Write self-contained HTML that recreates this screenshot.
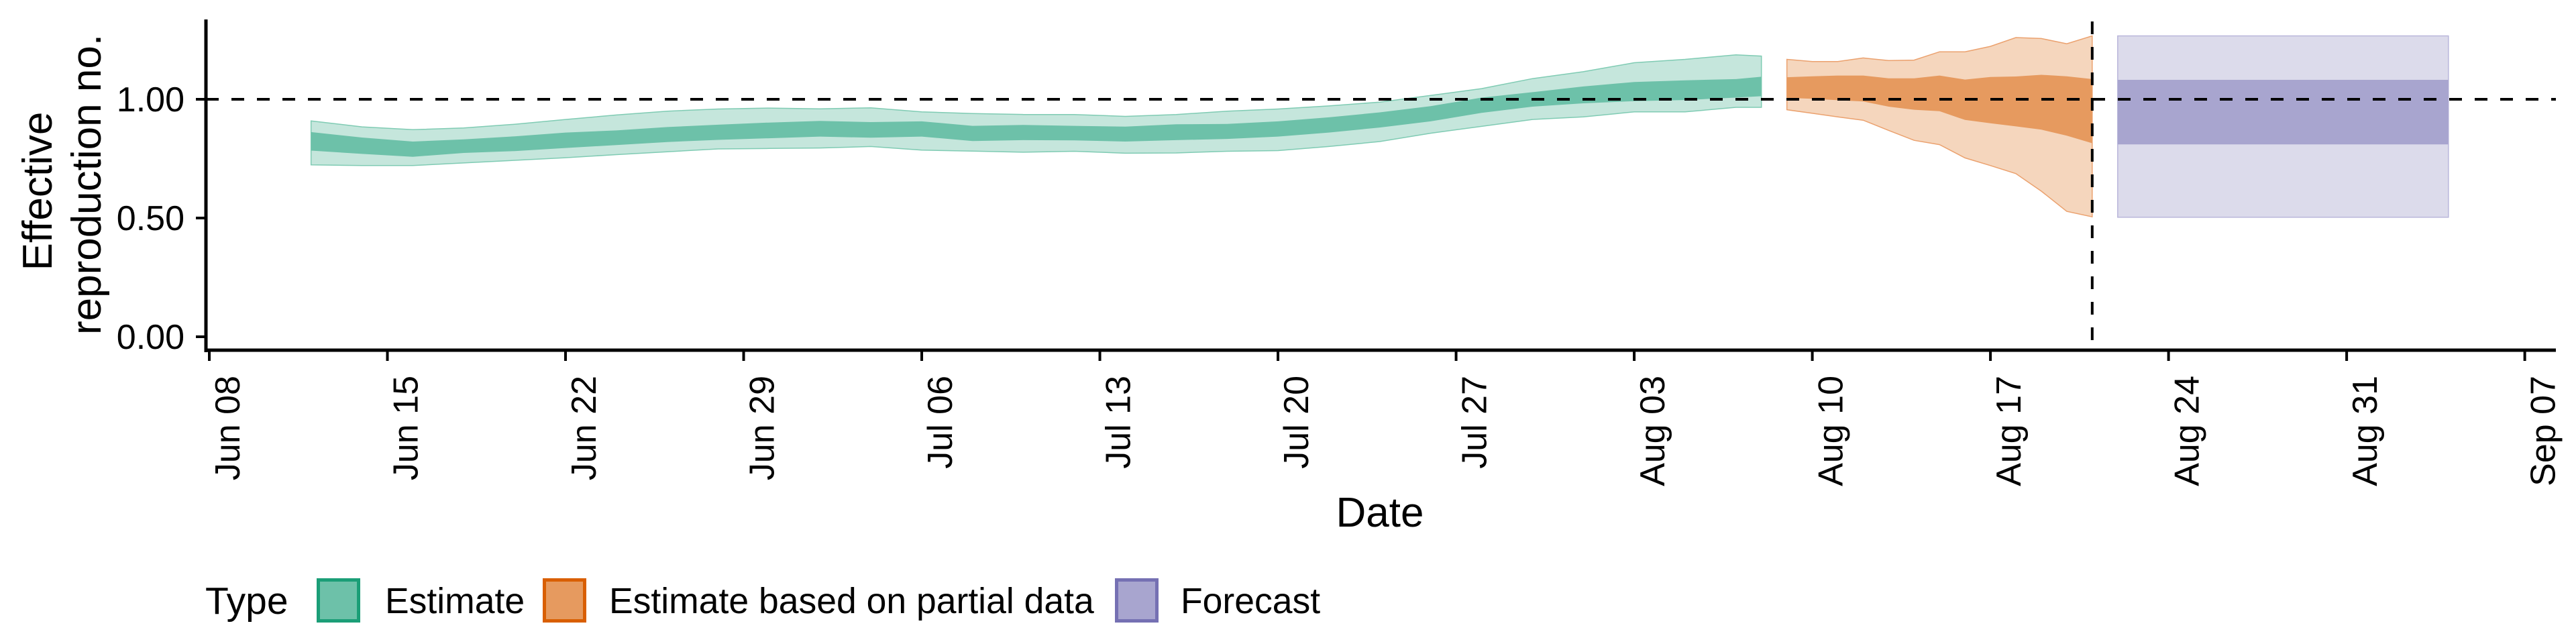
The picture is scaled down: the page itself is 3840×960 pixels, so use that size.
<!DOCTYPE html>
<html><head><meta charset="utf-8"><style>
html,body{margin:0;padding:0;background:#fff;}
svg{display:block;font-family:"Liberation Sans",Arial,sans-serif;}
</style></head><body>
<svg id="chart" width="3840" height="960" viewBox="0 0 3840 960" xmlns="http://www.w3.org/2000/svg">
<g id="bands"></g>
<g id="axes"></g>
<g id="legend"></g>
</svg>
<script>
const estDates = ["06-12","06-14","06-16","06-18","06-20","06-22","06-24","06-26","06-28","06-30","07-02","07-04","07-06","07-08","07-10","07-12","07-14","07-16","07-18","07-20","07-22","07-24","07-26","07-28","07-30","08-01","08-03","08-05","08-07","08-08"];
const estUpper90 = [0.909,0.884,0.872,0.879,0.895,0.915,0.934,0.950,0.959,0.963,0.960,0.964,0.947,0.940,0.936,0.936,0.928,0.936,0.950,0.959,0.972,0.988,1.016,1.045,1.087,1.116,1.154,1.168,1.187,1.182];
const estUpper50 = [0.862,0.839,0.822,0.831,0.844,0.860,0.869,0.883,0.893,0.902,0.909,0.904,0.907,0.888,0.892,0.888,0.885,0.895,0.896,0.907,0.924,0.945,0.971,1.007,1.030,1.054,1.073,1.080,1.085,1.095];
const estLower50 = [0.784,0.770,0.758,0.774,0.782,0.795,0.807,0.820,0.829,0.836,0.843,0.838,0.843,0.824,0.828,0.827,0.822,0.828,0.833,0.843,0.860,0.881,0.907,0.943,0.969,0.983,0.992,0.997,1.007,1.013];
const estLower90 = [0.724,0.721,0.721,0.732,0.743,0.754,0.767,0.779,0.791,0.793,0.795,0.801,0.786,0.782,0.777,0.781,0.773,0.774,0.781,0.784,0.801,0.822,0.857,0.886,0.915,0.926,0.947,0.947,0.966,0.966];

const partDates = ["08-09","08-10","08-11","08-12","08-13","08-14","08-15","08-16","08-17","08-18","08-19","08-20","08-21"];
const partUpper90 = [1.168,1.159,1.159,1.174,1.163,1.165,1.200,1.200,1.223,1.260,1.256,1.234,1.267];
const partUpper50 = [1.093,1.097,1.100,1.100,1.088,1.088,1.100,1.083,1.094,1.096,1.103,1.097,1.085];
const partLower50 = [1.006,1.002,0.996,0.991,0.969,0.956,0.950,0.913,0.899,0.886,0.872,0.847,0.815];
const partLower90 = [0.956,0.941,0.926,0.912,0.869,0.827,0.809,0.753,0.721,0.687,0.613,0.528,0.505];

const fcDates = ["08-22","09-04"];
const fcUpper90 = [1.267,1.267];
const fcUpper50 = [1.082,1.082];
const fcLower50 = [0.81,0.81];
const fcLower90 = [0.503,0.503];

const xTickLabels = ["Jun 08","Jun 15","Jun 22","Jun 29","Jul 06","Jul 13","Jul 20","Jul 27","Aug 03","Aug 10","Aug 17","Aug 24","Aug 31","Sep 07"];
const yTicks = [0, 0.5, 1.0];
const yTickLabels = ["0.00","0.50","1.00"];
const refR = 1.0;
const cutoffDate = "08-21";

const NS = "http://www.w3.org/2000/svg";
function dayIndex(md){const [m,d]=md.split("-").map(Number);return Math.round((Date.UTC(2020,m-1,d)-Date.UTC(2020,5,8))/86400000);}
function xs(md){return 312 + dayIndex(md)*37.93;}
function xd(i){return 312 + i*37.93;}
function ys(r){return 148 + (1-r)*354;}
function mk(tag, attrs, parent){const e=document.createElementNS(NS,tag);for(const k in attrs)e.setAttribute(k,attrs[k]);parent.appendChild(e);return e;}

const bands=document.getElementById("bands");
function band(dates, up, lo, fill, stroke, name){
  let d="M"+dates.map((t,i)=>xs(t).toFixed(1)+","+ys(up[i]).toFixed(1)).join("L");
  for(let i=dates.length-1;i>=0;i--) d+="L"+xs(dates[i]).toFixed(1)+","+ys(lo[i]).toFixed(1);
  d+="Z";
  const p=mk("path",{d:d,fill:fill,stroke:stroke||"none","stroke-width":stroke?1.5:0},bands);
  
  
}
band(estDates, estUpper90, estLower90, "#c5e6dc", "#7fcbb3", "estimate-90-band");
band(estDates, estUpper50, estLower50, "#6dc1a9", null, "estimate-50-band");
band(partDates, partUpper90, partLower90, "#f5d6bd", "#eba16e", "partial-90-band");
band(partDates, partUpper50, partLower50, "#e69a5f", null, "partial-50-band");
band(fcDates, fcUpper90, fcLower90, "#dcdbeb", "#b9b6db", "forecast-90-band");
band(fcDates, fcUpper50, fcLower50, "#a8a5cf", null, "forecast-50-band");

const axes=document.getElementById("axes");
let el;
el=mk("line",{x1:307,x2:3810,y1:ys(refR),y2:ys(refR),stroke:"#000","stroke-width":4,"stroke-dasharray":"19 19"},axes);


el=mk("line",{x1:xs(cutoffDate),x2:xs(cutoffDate),y1:32,y2:522,stroke:"#000","stroke-width":4,"stroke-dasharray":"19 19"},axes);


el=mk("line",{x1:307,x2:307,y1:29,y2:525,stroke:"#000","stroke-width":5},axes);


el=mk("line",{x1:305,x2:3810,y1:522,y2:522,stroke:"#000","stroke-width":5},axes);


yTicks.forEach((v,i)=>{
  const t=mk("line",{x1:292,x2:307,y1:ys(v),y2:ys(v),stroke:"#000","stroke-width":4},axes);
  
  
  const l=mk("text",{x:275,y:ys(v)+18,"text-anchor":"end","font-size":52,fill:"#000"},axes);
  l.textContent=yTickLabels[i];
  
  
});
xTickLabels.forEach((lab,i)=>{
  const x=xd(i*7);
  const t=mk("line",{x1:x,x2:x,y1:522,y2:538,stroke:"#000","stroke-width":4},axes);
  
  
  const l=mk("text",{transform:"translate("+(x+45)+",560) rotate(-90)","text-anchor":"end","font-size":52,fill:"#000"},axes);
  l.textContent=lab;
  
  
});
el=mk("text",{x:2057,y:785,"text-anchor":"middle","font-size":62,fill:"#000"},axes);
el.textContent="Date";


el=mk("text",{transform:"translate(77,285) rotate(-90)","text-anchor":"middle","font-size":62,fill:"#000"},axes);
el.textContent="Effective";


el=mk("text",{transform:"translate(150,275) rotate(-90)","text-anchor":"middle","font-size":62,fill:"#000"},axes);
el.textContent="reproduction no.";



const legend=document.getElementById("legend");
el=mk("text",{x:306,y:915,"font-size":57,fill:"#000"},legend);
el.textContent="Type";


const legItems=[["Estimate",472,"#6dc1a9","#1b9e77",574,"legend-entry-estimate"],["Estimate based on partial data",809,"#e69a5f","#d95f02",908,"legend-entry-partial"],["Forecast",1662,"#a8a5cf","#7570b3",1760,"legend-entry-forecast"]];
legItems.forEach(it=>{
  const g=mk("g",{},legend);
  
  
  const r=mk("rect",{x:it[1]+2.5,y:864.5,width:60,height:61,fill:it[2],stroke:it[3],"stroke-width":5},g);
  
  
  const t=mk("text",{x:it[4],y:914,"font-size":53.5,fill:"#000"},g);
  t.textContent=it[0];
  
  
});
</script>
</body></html>
